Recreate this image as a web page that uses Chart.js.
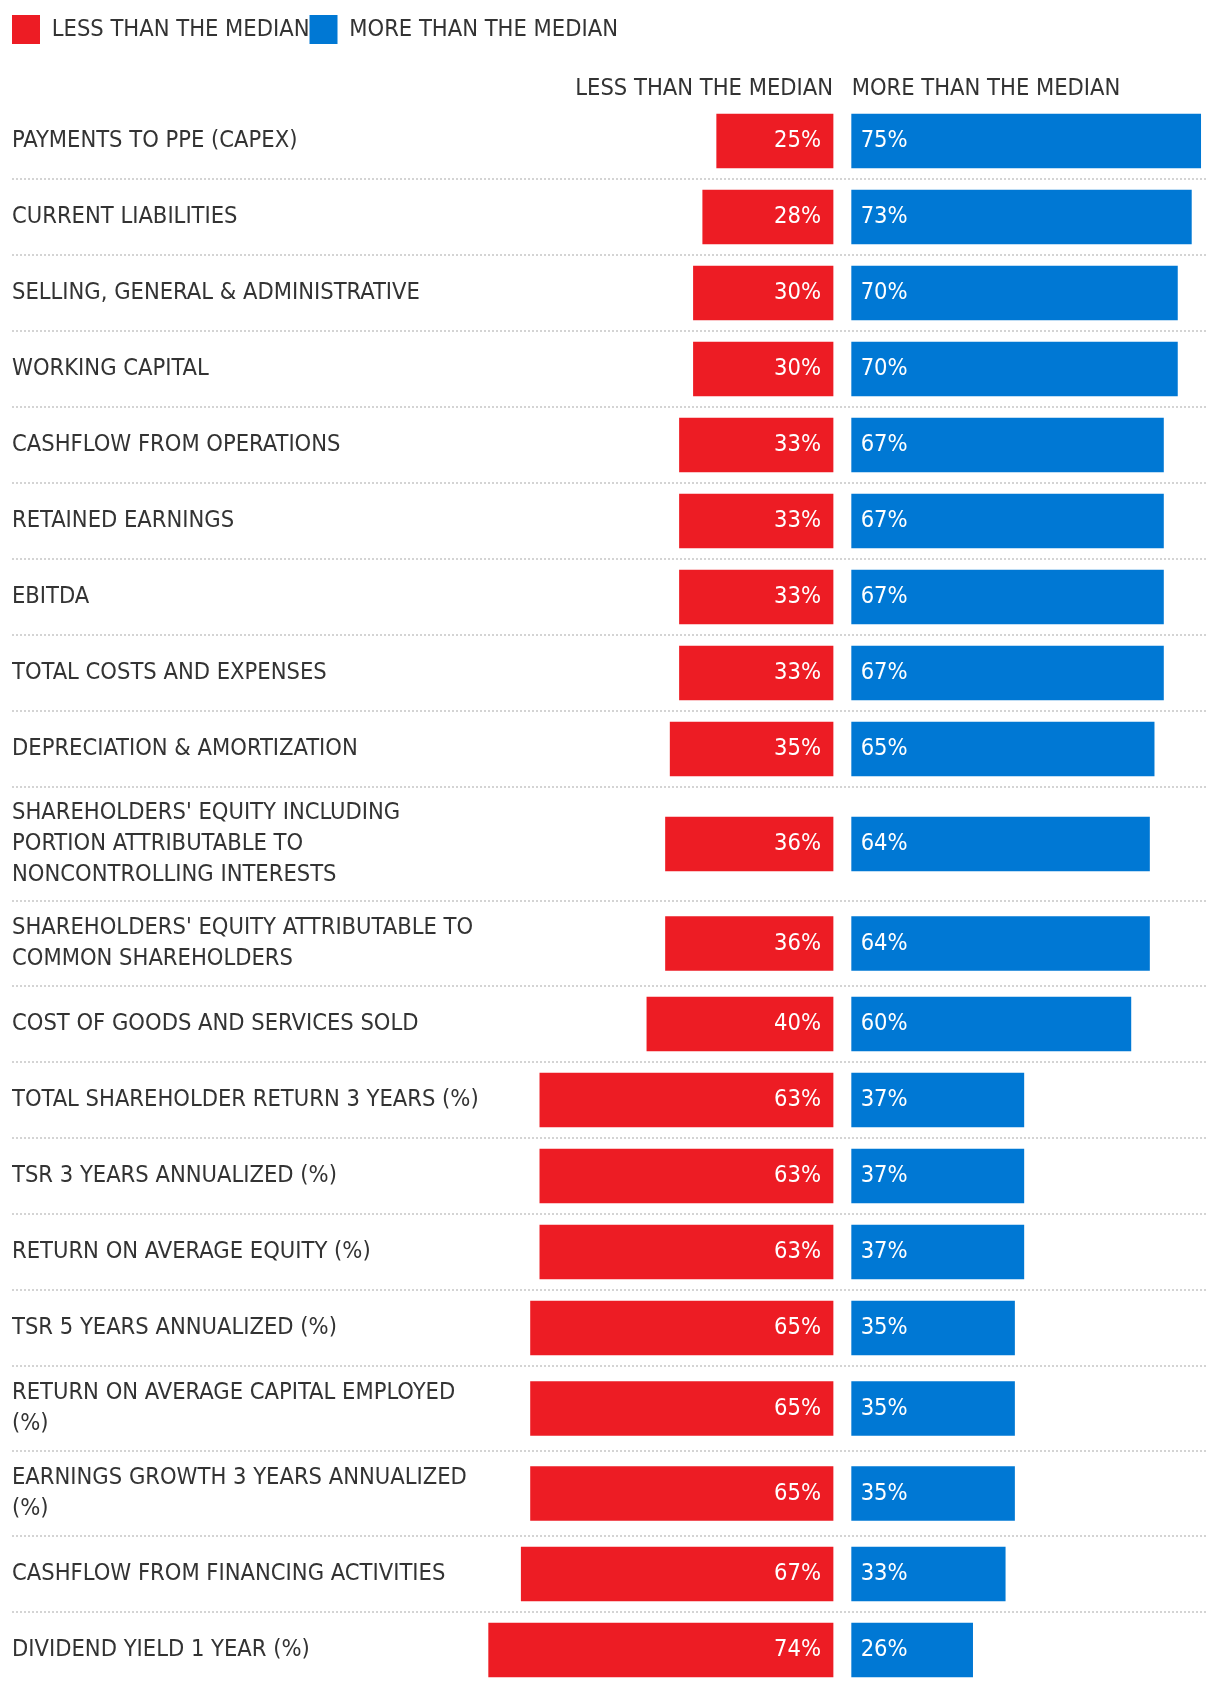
<!DOCTYPE html>
<html>
<head>
<meta charset="utf-8">
<title>Less / more than the median</title>
<script src="https://cdn.jsdelivr.net/npm/chart.js@4.4.1/dist/chart.umd.min.js"></script>
<style>
  html, body { margin: 0; padding: 0; background: #fff; }
  #chart { display: block; }
</style>
</head>
<body>
<canvas id="chart" width="1220" height="1688"></canvas>
<script>
const LESS_LABEL = "LESS THAN THE MEDIAN";
const MORE_LABEL = "MORE THAN THE MEDIAN";

// one entry per printed line of the label
const categories = [
  ["PAYMENTS TO PPE (CAPEX)"],
  ["CURRENT LIABILITIES"],
  ["SELLING, GENERAL & ADMINISTRATIVE"],
  ["WORKING CAPITAL"],
  ["CASHFLOW FROM OPERATIONS"],
  ["RETAINED EARNINGS"],
  ["EBITDA"],
  ["TOTAL COSTS AND EXPENSES"],
  ["DEPRECIATION & AMORTIZATION"],
  ["SHAREHOLDERS' EQUITY INCLUDING", "PORTION ATTRIBUTABLE TO", "NONCONTROLLING INTERESTS"],
  ["SHAREHOLDERS' EQUITY ATTRIBUTABLE TO", "COMMON SHAREHOLDERS"],
  ["COST OF GOODS AND SERVICES SOLD"],
  ["TOTAL SHAREHOLDER RETURN 3 YEARS (%)"],
  ["TSR 3 YEARS ANNUALIZED (%)"],
  ["RETURN ON AVERAGE EQUITY (%)"],
  ["TSR 5 YEARS ANNUALIZED (%)"],
  ["RETURN ON AVERAGE CAPITAL EMPLOYED", "(%)"],
  ["EARNINGS GROWTH 3 YEARS ANNUALIZED", "(%)"],
  ["CASHFLOW FROM FINANCING ACTIVITIES"],
  ["DIVIDEND YIELD 1 YEAR (%)"]
];

const lessThanMedian = [25, 28, 30, 30, 33, 33, 33, 33, 35, 36, 36, 40, 63, 63, 63, 65, 65, 65, 67, 74];
const moreThanMedian = [75, 73, 70, 70, 67, 67, 67, 67, 65, 64, 64, 60, 37, 37, 37, 35, 35, 35, 33, 26];

const RED = "#ed1c24";
const BLUE = "#0078d4";
const TEXT = "#333333";
const FONT = '"DejaVu Sans Condensed", "Liberation Sans Narrow", Roboto, sans-serif';
const FONT_SIZE = 23.5;

// rows with wrapped labels get taller (y axis runs in pixels of row height)
const rowHeight = lines => Math.max(76, 27 + 29 * lines);
const rowTops = [];
let totalHeight = 0;
categories.forEach(c => { rowTops.push(totalHeight); totalHeight += rowHeight(c.length); });
const rowCenters = categories.map((c, i) => rowTops[i] + rowHeight(c.length) / 2);

// dotted separators between rows + the % labels inside the bars
const rowDecor = {
  id: "rowDecor",
  beforeDatasetsDraw(chart) {
    const { ctx, scales: { y } } = chart;
    ctx.save();
    ctx.strokeStyle = "#d4d4d4";
    ctx.lineWidth = 2;
    ctx.setLineDash([2, 2]);
    rowTops.slice(1).forEach(t => {
      const py = Math.round(y.getPixelForValue(t));
      ctx.beginPath();
      ctx.moveTo(12, py);
      ctx.lineTo(1207, py);
      ctx.stroke();
    });
    ctx.restore();
  },
  afterDatasetsDraw(chart) {
    const { ctx } = chart;
    ctx.save();
    ctx.font = FONT_SIZE + "px " + FONT;
    ctx.fillStyle = "#ffffff";
    ctx.textBaseline = "middle";
    ctx.textAlign = "right";
    chart.getDatasetMeta(0).data.forEach((bar, i) => {
      ctx.fillText(lessThanMedian[i] + "%", bar.base - 12, bar.y);
    });
    ctx.textAlign = "left";
    chart.getDatasetMeta(1).data.forEach((bar, i) => {
      ctx.fillText(moreThanMedian[i] + "%", bar.base + 9, bar.y);
    });
    ctx.restore();
  }
};

Chart.defaults.font.family = FONT;
Chart.defaults.font.size = FONT_SIZE;
Chart.defaults.color = TEXT;

// header axis: one tick at 0 carrying the column title
const headerAxis = (title, align, extra) => Object.assign({
  type: "linear",
  position: "top",
  stack: "cols",
  grid: { display: false },
  border: { display: false },
  afterBuildTicks: s => { s.ticks = [{ value: 0 }]; },
  afterFit: s => { s.height = 49; s.paddingLeft = 0; s.paddingRight = 0; },
  ticks: { align: align, padding: -8, color: TEXT, callback: () => title }
}, extra);

new Chart(document.getElementById("chart"), {
  type: "bar",
  data: {
    datasets: [
      {
        label: LESS_LABEL,
        data: lessThanMedian.map((v, i) => ({ x: v, y: rowCenters[i] })),
        backgroundColor: RED,
        xAxisID: "xl",
        barThickness: 54,
        grouped: false
      },
      {
        label: MORE_LABEL,
        data: moreThanMedian.map((v, i) => ({ x: v, y: rowCenters[i] })),
        backgroundColor: BLUE,
        xAxisID: "xr",
        barThickness: 54,
        grouped: false
      }
    ]
  },
  options: {
    indexAxis: "y",
    responsive: false,
    animation: false,
    layout: { padding: { top: 15, left: 12, right: 10, bottom: 0 } },
    plugins: {
      legend: {
        align: "start",
        labels: { boxWidth: 28, boxHeight: 29, padding: 0, color: TEXT }
      },
      tooltip: { enabled: false }
    },
    scales: {
      y: {
        type: "linear",
        reverse: true,
        offset: false,
        min: 0,
        max: totalHeight,
        grid: { display: false, offset: false },
        border: { display: false },
        afterBuildTicks: s => { s.ticks = rowCenters.map(v => ({ value: v })); },
        afterFit: s => { s.width = 472; s.paddingTop = 0; s.paddingBottom = 0; },
        ticks: {
          autoSkip: false,
          crossAlign: "far",
          padding: 0,
          color: TEXT,
          font: { size: FONT_SIZE, lineHeight: 1.32 },
          callback: (v, i) => categories[i]
        }
      },
      xl: headerAxis(LESS_LABEL, "end", { reverse: true, min: -2, max: 75, stackWeight: 77, weight: 1 }),
      xr: headerAxis(MORE_LABEL, "start", { min: -2, max: 77, stackWeight: 79, weight: 0 })
    }
  },
  plugins: [rowDecor]
});
</script>
</body>
</html>
